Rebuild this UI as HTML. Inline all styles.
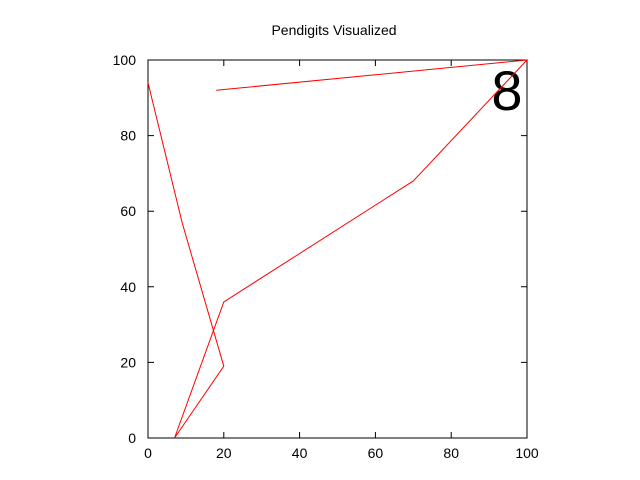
<!DOCTYPE html>
<html><head><meta charset="utf-8"><style>body{margin:0;background:#fff}svg{display:block}text{font-family:"Liberation Sans",sans-serif;font-size:14px}</style></head>
<body>
<svg width="640" height="480">
<text x="334" y="35" text-anchor="middle">Pendigits Visualized</text>
<rect x="148" y="60" width="379" height="378" fill="none" stroke="#000"/>
<g id="ticks"></g>
<text x="507" y="110" text-anchor="middle" style="font-size:56px">8</text>
<polyline id="line" fill="none" stroke="#f00" stroke-width="1"/>
</svg>
<script>
const xVals=[18,100,70,20,7,20,9,0];
const yVals=[92,100,68,36,0,19,57,94];
const tickVals=[0,20,40,60,80,100];
const X=v=>148+v*3.79, Y=v=>438-v*3.78;
document.getElementById('line').setAttribute('points',xVals.map((x,i)=>X(x)+','+Y(yVals[i])).join(' '));
const g=document.getElementById('ticks'),ns='http://www.w3.org/2000/svg';
tickVals.forEach(t=>{
 const mk=(tag,a)=>{const e=document.createElementNS(ns,tag);for(const k in a)e.setAttribute(k,a[k]);g.appendChild(e);return e;};
 let l=mk('path',{d:`M${X(t)},438v-6M${X(t)},60v6M148,${Y(t)}h6M527,${Y(t)}h-6`,stroke:'#000'});
 
 
 let tx=mk('text',{x:X(t),y:458,'text-anchor':'middle'});tx.textContent=t;
 
 
 let ty=mk('text',{x:136,y:Y(t)+5,'text-anchor':'end'});ty.textContent=t;
 
 
});
</script>
</body></html>
